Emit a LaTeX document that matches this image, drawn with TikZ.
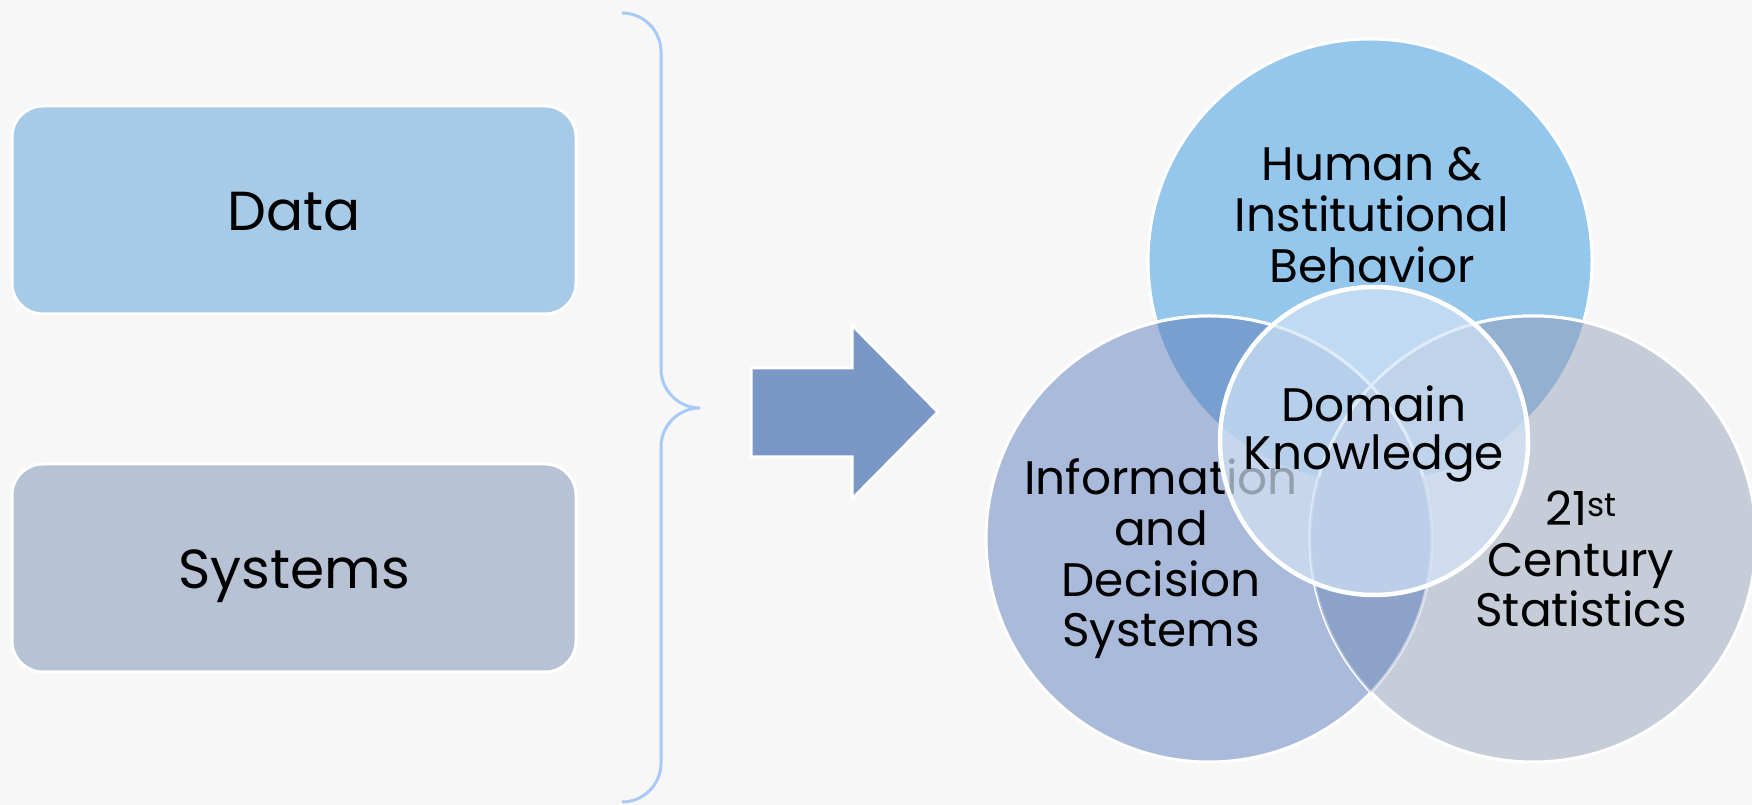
\documentclass[tikz,border=0pt]{standalone}
\usepackage{fontspec}
\setmainfont{Poppins}
\usetikzlibrary{positioning}

\definecolor{bgcol}{HTML}{F7F7F7}
\definecolor{datacol}{HTML}{A7CAE6}
\definecolor{syscol}{HTML}{B7C2D5}
\definecolor{bracecol}{HTML}{A8CAF5}
\definecolor{arrowcol}{HTML}{7B97C6}
\definecolor{humcol}{HTML}{95C6EB}
\definecolor{infcol}{HTML}{AABADB}
\definecolor{stacol}{HTML}{C6CDD9}
\definecolor{hicol}{HTML}{77A0D1}
\definecolor{hscol}{HTML}{93B0D0}
\definecolor{iscol}{HTML}{8DA2C9}
\definecolor{allcol}{HTML}{7193C4}
\definecolor{domcol}{HTML}{D2E3F6}

\begin{document}
\begin{tikzpicture}[x=1pt, y=1pt,
    box/.style={rounded corners=31pt, draw=white, line width=3pt, minimum width=564pt,
        minimum height=208pt, inner sep=0pt, text height=48pt, text depth=6pt,
        font=\fontsize{55}{60}\selectfont},
    vlabel/.style={align=center, inner sep=0pt, font=\fontsize{47}{50.6}\selectfont},
    rim/.style={draw=white, line width=3pt}]
    % Canvas
    \useasboundingbox (0,0) rectangle (1752,805);
    \fill[bgcol] (0,0) rectangle (1752,805);

    % Define boxes
    \node[box, fill=datacol] (data) at (294,595) {Data};
    \node[box, fill=syscol] (systems) at (294,237) {Systems};

    % Draw brace and arrow
    \draw[bracecol, line width=3pt] (622,792) arc[start angle=90, end angle=0, radius=39]
        -- (661,436) arc[start angle=180, end angle=270, radius=39]
        arc[start angle=90, end angle=180, radius=39]
        -- (661,42) arc[start angle=0, end angle=-90, radius=39];
    \filldraw[fill=arrowcol, rim] (751,437) -- (852,437) -- (852,480) -- (938,393)
        -- (852,306) -- (852,348) -- (751,348) -- cycle;

    % Define circles
    \coordinate (hum) at (1370,544);
    \coordinate (inf) at (1209,266);
    \coordinate (sta) at (1533,266);
    \coordinate (dom) at (1374,364);

    \fill[humcol] (hum) circle (222);
    \draw[rim] (hum) circle (222);
    \fill[infcol] (inf) circle (223);
    \draw[rim] (inf) circle (223);
    \fill[stacol] (sta) circle (223);
    \draw[rim] (sta) circle (223);

    % Fill overlaps
    \begin{scope}
        \clip (hum) circle (222);
        \fill[hicol] (inf) circle (223);
        \fill[hscol] (sta) circle (223);
        \clip (inf) circle (223);
        \fill[allcol] (sta) circle (223);
    \end{scope}
    \begin{scope}
        \clip (inf) circle (223);
        \fill[iscol] (sta) circle (223);
    \end{scope}
    \begin{scope}
        \clip (hum) circle (222);
        \draw[rim] (inf) circle (223);
        \draw[rim] (sta) circle (223);
    \end{scope}
    \begin{scope}
        \clip (sta) circle (223);
        \draw[rim, draw opacity=0.5] (inf) circle (223);
    \end{scope}
    \begin{scope}
        \clip (inf) circle (223);
        \draw[rim, draw opacity=0.3] (sta) circle (223);
    \end{scope}

    % Circle labels
    \node[vlabel] (human) at (1372,590) {Human \&\\Institutional\\Behavior};
    \node[vlabel] (info) at (1161,246) {Information\\and\\Decision\\Systems};
    \node[vlabel] (stats) at (1581,246) {21\textsuperscript{st}\\Century\\Statistics};

    % Center circle
    \fill[domcol, fill opacity=0.7] (dom) circle (154);
    \draw[white, line width=4.5pt] (dom) circle (154);
    \node[vlabel, font=\fontsize{47}{48}\selectfont] (domain) at (1374,371) {Domain\\Knowledge};
\end{tikzpicture}
\end{document}
